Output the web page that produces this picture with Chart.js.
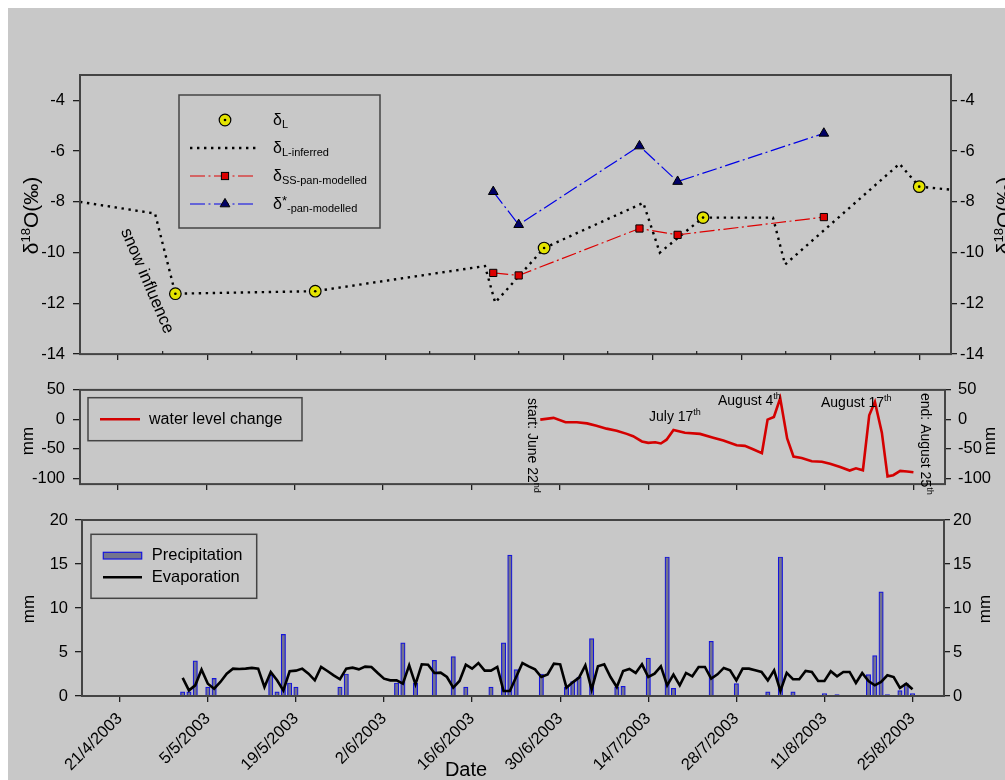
<!DOCTYPE html>
<html>
<head>
<meta charset="utf-8">
<title>Lake isotopes, water level and climate 2003</title>
<script src="https://cdn.jsdelivr.net/npm/chart.js@4/dist/chart.umd.min.js"></script>
<style>
  html, body { margin: 0; padding: 0; background: #fff; }
  #sheet { position: absolute; left: 8px; top: 8px; width: 997px; height: 772px; background: #c8c8c8; }
  canvas { position: absolute; left: 0; }
</style>
</head>
<body>
<div id="sheet"></div>
<canvas id="isoChart" width="1005" height="372" style="top:0px"></canvas>
<canvas id="levelChart" width="1005" height="130" style="top:372px"></canvas>
<canvas id="rainChart" width="1005" height="278" style="top:502px"></canvas>

<script>
// x values are day of year 2003 (21/4 = 111)
const dayMin = 105;
const dayMax = 242;
const tickDays = [111, 125, 139, 153, 167, 181, 195, 209, 223, 237];
const tickLabels = ["21/4/2003", "5/5/2003", "19/5/2003", "2/6/2003", "16/6/2003",
  "30/6/2003", "14/7/2003", "28/7/2003", "11/8/2003", "25/8/2003"];
const weekDays = [118, 132, 146, 160, 174, 188, 202, 216, 230];

// delta 18O panel
const isoTicks = [-4, -6, -8, -10, -12, -14];
const lakeDays = [120, 142, 178, 203, 237];
const lakeValues = [-11.62, -11.52, -9.82, -8.62, -7.4];

const inferredDays = [105, 116.8, 120, 142, 168.7, 170.3, 178, 193.6, 196.2, 203, 214, 215.9, 233.9, 237, 242];
const inferredValues = [-8.0, -8.46, -11.62, -11.52, -10.53, -11.97, -9.82, -8.04, -10.0, -8.62, -8.62, -10.47, -6.5, -7.4, -7.52];

const panDays = [170, 174, 193, 199, 222];
const ssValues = [-10.8, -10.9, -9.05, -9.3, -8.6];
const starValues = [-7.6, -8.9, -5.8, -7.2, -5.3];

// water level panel
const levelTicks = [50, 0, -50, -100];
const levelDays = [177.9, 180, 181.9, 183.7, 185.3, 186.8, 188.4, 190, 191.6, 192.6, 194, 195, 196.1,
  197, 197.9, 199, 200.8, 203.2, 205.3, 206.9, 209, 210.3, 211.6, 213, 213.9, 214.9, 215.9, 217, 218,
  219.3, 220.9, 222.5, 223.8, 225.4, 226.9, 227.9, 229, 230, 230.9, 232, 232.9, 233.8, 234.9, 236, 237];
const levelValues = [-0.5, 2.5, -4.9, -4.9, -6.9, -10.8, -15.8, -19.3, -24.7, -28.6, -37.5, -40, -39,
  -41, -34.6, -18.2, -22.7, -24.7, -31.1, -36.1, -43.9, -45, -50.9, -57.3, -0.5, 4, 35.6, -32.6, -63.2,
  -65.7, -71.2, -72.1, -75.6, -81, -87, -83.1, -86.5, 7, 29.7, -22.7, -96.9, -94.9, -87.5, -88.5, -89.9];

// precipitation / evaporation panel
const mmTicks = [0, 5, 10, 15, 20];
const rainDays = [121, 122, 123, 125, 126, 135, 136, 137, 138, 139, 146, 147, 155, 156, 158, 161, 164,
  166, 170, 172, 173, 174, 178, 182, 183, 184, 186, 190, 191, 195, 198, 199, 205, 209, 214, 216, 218,
  223, 225, 230, 231, 232, 233, 235, 236, 237];
const rainValues = [0.46, 0.46, 4.0, 1.0, 2.0, 2.35, 0.46, 7.0, 1.48, 1.0, 1.0, 2.5, 1.48, 6.03, 1.45, 4.06, 4.47,
  1.0, 1.0, 6.03, 16.0, 3.0, 2.5, 1.0, 1.65, 2.15, 6.52, 1.0, 1.1, 4.3, 15.8, 0.87, 6.22, 1.4, 0.46, 15.8, 0.46,
  0.27, 0.15, 2.43, 4.59, 11.83, 0.15, 0.61, 1.4, 0.27];

const evapFirstDay = 121;
const evapValues = [
  2.05, 0.64, 1.21, 3.0, 1.40, 0.83, 1.59, 2.54, 3.11, 3.07, 3.11, 3.19, 3.11, 1.02, 2.73, 1.78, 0.64, 2.81,
  2.88, 3.11, 2.54, 1.78, 3.30, 2.84, 2.35, 1.90, 3.11, 3.22, 3.03, 3.34, 3.30, 2.62, 1.97, 1.78, 1.78, 1.40,
  3.49, 1.33,
  3.60, 3.56, 2.62, 2.65, 2.16, 0.95, 1.71, 3.56, 3.11, 3.75, 2.88, 2.88, 3.30, 0.57, 0.57, 2.16, 3.75, 3.37,
  3.03, 2.16, 2.46, 3.68, 3.60, 0.95, 1.55, 2.09, 3.49, 0.72, 3.37, 3.60, 2.16, 1.02, 2.84, 3.07, 2.62, 3.60,
  2.16, 2.54, 3.37, 1.21,
  2.43, 1.21, 2.62, 2.24, 3.30, 3.30, 1.97, 2.46, 3.19, 2.92, 1.78, 3.11, 3.11, 2.92, 2.73, 1.78, 2.92, 0.57,
  2.62, 1.90, 1.90, 2.84, 2.73, 1.71, 1.71, 2.81, 2.24, 2.73, 2.73, 1.48, 2.62, 1.71, 1.21, 1.59, 2.35, 2.16,
  0.91, 1.40, 0.76];

const FONT = '"Liberation Sans", Arial, Helvetica, sans-serif';
Chart.defaults.font.family = FONT;
Chart.defaults.color = "#000";

const yellow = "#e3e300";
const red = "#dd0000";
const blue = "#0000e6";
const navy = "#000066";
const barFill = "#74748e";
const barEdge = "#1414dc";
const frameColor = "#444";
const dotted = [2.4, 4.6];
const dashDot = [15, 3.5, 2, 3.5];

function toPoints(xs, ys) {
  return xs.map((x, i) => ({ x: x, y: ys[i] }));
}

function setFont(ctx, size) {
  ctx.font = size + "px " + FONT;
}

function partsWidth(ctx, parts) {
  let w = 0;
  parts.forEach(p => {
    setFont(ctx, p.size);
    w += ctx.measureText(p.text).width;
  });
  return w;
}

function drawParts(ctx, x, y, parts) {
  let cx = x;
  parts.forEach(p => {
    setFont(ctx, p.size);
    ctx.fillText(p.text, cx, y + (p.shift || 0));
    cx += ctx.measureText(p.text).width;
  });
}

function drawTurned(ctx, x, y, angle, parts, centred) {
  ctx.save();
  ctx.translate(x, y);
  ctx.rotate(angle);
  const start = centred ? -partsWidth(ctx, parts) / 2 : 0;
  drawParts(ctx, start, 0, parts);
  ctx.restore();
}

function dayAxis(axisHeight, showLabels) {
  return {
    type: "linear",
    position: "bottom",
    min: dayMin,
    max: dayMax,
    offset: false,
    afterBuildTicks: s => { s.ticks = tickDays.map(v => ({ value: v })); },
    afterFit: s => { s.height = axisHeight; },
    grid: { drawOnChartArea: false, drawTicks: true, tickLength: 6, color: "#1e1e1e", lineWidth: 1.3, offset: false },
    border: { display: false },
    ticks: {
      autoSkip: false,
      maxRotation: 45,
      minRotation: 45,
      padding: 7,
      font: { size: 16.5 },
      callback: (v, i) => showLabels ? tickLabels[i] : ""
    }
  };
}

function valueAxis(position, min, max, values, width, tickLength, padding) {
  return {
    type: "linear",
    position: position,
    min: min,
    max: max,
    afterBuildTicks: s => { s.ticks = values.map(v => ({ value: v })); },
    afterFit: s => { s.width = width; },
    grid: { drawOnChartArea: false, drawTicks: true, tickLength: tickLength, color: "#1e1e1e", lineWidth: 1.3 },
    border: { display: false },
    ticks: { padding: padding, font: { size: 16.5 } }
  };
}

function drawFrame(chart) {
  const { ctx, chartArea: a } = chart;
  ctx.save();
  ctx.strokeStyle = frameColor;
  ctx.lineWidth = 2;
  ctx.strokeRect(a.left, a.top, a.right - a.left, a.bottom - a.top);
  ctx.restore();
}

function drawSquare(ctx, x, y, side, fill) {
  ctx.fillStyle = fill;
  ctx.strokeStyle = "#000";
  ctx.lineWidth = 1;
  ctx.fillRect(x - side / 2, y - side / 2, side, side);
  ctx.strokeRect(x - side / 2, y - side / 2, side, side);
}

function drawTriangle(ctx, x, y, r, fill) {
  ctx.beginPath();
  ctx.moveTo(x, y - r);
  ctx.lineTo(x + r * 0.866, y + r / 2);
  ctx.lineTo(x - r * 0.866, y + r / 2);
  ctx.closePath();
  ctx.fillStyle = fill;
  ctx.fill();
  ctx.strokeStyle = "#000";
  ctx.lineWidth = 1;
  ctx.stroke();
}

function sampleLine(ctx, x1, x2, y, color, width, dash) {
  ctx.beginPath();
  ctx.setLineDash(dash);
  ctx.strokeStyle = color;
  ctx.lineWidth = width;
  ctx.moveTo(x1, y);
  ctx.lineTo(x2, y);
  ctx.stroke();
  ctx.setLineDash([]);
}

const baseOptions = {
  responsive: false,
  animation: false,
  events: [],
  devicePixelRatio: 1,
  plugins: { legend: { display: false }, tooltip: { enabled: false } }
};

// ---------- delta 18O ----------
const isoDecor = {
  id: "isoDecor",
  afterDraw(chart) {
    const { ctx, chartArea: a } = chart;
    const x = chart.scales.x;
    drawFrame(chart);

    // weekly minor ticks inside the bottom axis
    ctx.save();
    ctx.strokeStyle = "#1e1e1e";
    ctx.lineWidth = 1.2;
    weekDays.forEach(d => {
      const px = x.getPixelForValue(d);
      ctx.beginPath();
      ctx.moveTo(px, a.bottom);
      ctx.lineTo(px, a.bottom - 3);
      ctx.stroke();
    });

    // legend box
    ctx.strokeStyle = frameColor;
    ctx.lineWidth = 1.5;
    ctx.strokeRect(179, 95, 201, 133);

    ctx.beginPath();
    ctx.arc(225, 120, 5.8, 0, Math.PI * 2);
    ctx.fillStyle = yellow;
    ctx.fill();
    ctx.strokeStyle = "#000";
    ctx.lineWidth = 1.2;
    ctx.stroke();
    ctx.beginPath();
    ctx.arc(225, 120, 1.3, 0, Math.PI * 2);
    ctx.fillStyle = "#000";
    ctx.fill();

    sampleLine(ctx, 190, 258, 148, "#000", 2.4, dotted);
    sampleLine(ctx, 190, 256, 176, red, 1.2, dashDot);
    drawSquare(ctx, 225, 176, 7.2, red);
    sampleLine(ctx, 190, 256, 204, blue, 1.2, dashDot);
    drawTriangle(ctx, 225, 204, 5.6, navy);

    ctx.fillStyle = "#000";
    ctx.textBaseline = "alphabetic";
    drawParts(ctx, 273, 125, [{ text: "δ", size: 16 }, { text: "L", size: 11, shift: 3.4 }]);
    drawParts(ctx, 273, 153, [{ text: "δ", size: 16 }, { text: "L-inferred", size: 11, shift: 3.4 }]);
    drawParts(ctx, 273, 181, [{ text: "δ", size: 16 }, { text: "SS-pan-modelled", size: 11, shift: 3.4 }]);
    drawParts(ctx, 273, 209, [{ text: "δ", size: 16 }, { text: "*", size: 13, shift: -4 },
      { text: "-pan-modelled", size: 11, shift: 3.4 }]);

    // annotation
    ctx.textBaseline = "middle";
    drawTurned(ctx, 147, 281, 67 * Math.PI / 180, [{ text: "snow influence", size: 17 }], true);

    // axis titles
    ctx.textBaseline = "alphabetic";
    const title = [{ text: "δ", size: 21 }, { text: "18", size: 13, shift: -8 }, { text: "O(‰)", size: 21 }];
    drawTurned(ctx, 38, 215.5, -Math.PI / 2, title, true);
    drawTurned(ctx, 1011, 215.5, -Math.PI / 2, title, true);
    ctx.restore();
  }
};

new Chart(document.getElementById("isoChart"), {
  type: "scatter",
  data: {
    datasets: [
      {
        label: "δL-inferred",
        data: toPoints(inferredDays, inferredValues),
        showLine: true,
        borderColor: "#000",
        borderWidth: 2.4,
        borderDash: dotted,
        pointRadius: 0,
        order: 5
      },
      {
        label: "δSS-pan-modelled",
        data: toPoints(panDays, ssValues),
        showLine: true,
        borderColor: red,
        borderWidth: 1.2,
        borderDash: dashDot,
        pointStyle: "rect",
        pointRadius: 5.1,
        pointBackgroundColor: red,
        pointBorderColor: "#000",
        pointBorderWidth: 1,
        order: 4
      },
      {
        label: "δ*-pan-modelled",
        data: toPoints(panDays, starValues),
        showLine: true,
        borderColor: blue,
        borderWidth: 1.2,
        borderDash: dashDot,
        pointStyle: "triangle",
        pointRadius: 5.6,
        pointBackgroundColor: navy,
        pointBorderColor: "#000",
        pointBorderWidth: 1,
        order: 3
      },
      {
        label: "δL",
        data: toPoints(lakeDays, lakeValues),
        pointRadius: 5.8,
        pointBackgroundColor: yellow,
        pointBorderColor: "#000",
        pointBorderWidth: 1.2,
        order: 2
      },
      {
        label: "δL centre",
        data: toPoints(lakeDays, lakeValues),
        pointRadius: 1.3,
        pointBackgroundColor: "#000",
        pointBorderWidth: 0,
        order: 1
      }
    ]
  },
  options: {
    ...baseOptions,
    layout: { padding: { top: 75, left: 0, right: 0, bottom: 0 } },
    scales: {
      x: dayAxis(17, false),
      y: valueAxis("left", -14, -3, isoTicks, 80, 7, 8),
      y2: valueAxis("right", -14, -3, isoTicks, 54, 6, 3)
    }
  },
  plugins: [isoDecor]
});

// ---------- water level ----------
const levelDecor = {
  id: "levelDecor",
  afterDraw(chart) {
    const { ctx } = chart;
    drawFrame(chart);
    ctx.save();

    ctx.strokeStyle = frameColor;
    ctx.lineWidth = 1.5;
    ctx.strokeRect(88, 25.7, 214, 43);
    sampleLine(ctx, 100, 140, 47.3, "#d40000", 2.6, []);
    ctx.fillStyle = "#000";
    ctx.textBaseline = "middle";
    drawParts(ctx, 149, 47.5, [{ text: "water level change", size: 16 }]);

    ctx.textBaseline = "alphabetic";
    drawParts(ctx, 649, 49, [{ text: "July 17", size: 14 }, { text: "th", size: 9, shift: -6 }]);
    drawParts(ctx, 718, 33, [{ text: "August 4", size: 14 }, { text: "th", size: 9, shift: -6 }]);
    drawParts(ctx, 821, 34.5, [{ text: "August 17", size: 14 }, { text: "th", size: 9, shift: -6 }]);
    drawTurned(ctx, 528, 26, Math.PI / 2, [{ text: "start: June 22", size: 14 }, { text: "nd", size: 9, shift: -6 }], false);
    drawTurned(ctx, 921, 21, Math.PI / 2, [{ text: "end: August 25", size: 14 }, { text: "th", size: 9, shift: -6 }], false);

    drawTurned(ctx, 33, 69, -Math.PI / 2, [{ text: "mm", size: 17 }], true);
    drawTurned(ctx, 995, 69, -Math.PI / 2, [{ text: "mm", size: 17 }], true);
    ctx.restore();
  }
};

new Chart(document.getElementById("levelChart"), {
  type: "scatter",
  data: {
    datasets: [{
      label: "water level change",
      data: toPoints(levelDays, levelValues),
      showLine: true,
      borderColor: "#d40000",
      borderWidth: 2.6,
      pointRadius: 0
    }]
  },
  options: {
    ...baseOptions,
    layout: { padding: { top: 15, left: 0, right: 0, bottom: 0 } },
    scales: {
      x: dayAxis(7, false),
      y: valueAxis("left", -110, 50, levelTicks, 80, 7, 8),
      y2: valueAxis("right", -110, 50, levelTicks, 60, 6, 7)
    }
  },
  plugins: [levelDecor]
});

// ---------- precipitation and evaporation ----------
const rainDecor = {
  id: "rainDecor",
  afterDraw(chart) {
    const { ctx } = chart;
    drawFrame(chart);
    ctx.save();

    ctx.strokeStyle = frameColor;
    ctx.lineWidth = 1.5;
    ctx.strokeRect(91, 32.3, 165.7, 64);
    ctx.fillStyle = barFill;
    ctx.fillRect(103.3, 50.3, 38.4, 6.7);
    ctx.strokeStyle = barEdge;
    ctx.lineWidth = 1.2;
    ctx.strokeRect(103.3, 50.3, 38.4, 6.7);
    sampleLine(ctx, 103, 142, 75.3, "#000", 2.6, []);

    ctx.fillStyle = "#000";
    ctx.textBaseline = "middle";
    drawParts(ctx, 151.7, 53.5, [{ text: "Precipitation", size: 16.5 }]);
    drawParts(ctx, 151.7, 75.5, [{ text: "Evaporation", size: 16.5 }]);

    ctx.textBaseline = "alphabetic";
    drawTurned(ctx, 34, 107, -Math.PI / 2, [{ text: "mm", size: 17 }], true);
    drawTurned(ctx, 990, 107, -Math.PI / 2, [{ text: "mm", size: 17 }], true);

    ctx.textAlign = "center";
    setFont(ctx, 20);
    ctx.fillText("Date", 466, 274);
    ctx.restore();
  }
};

new Chart(document.getElementById("rainChart"), {
  type: "bar",
  data: {
    datasets: [
      {
        type: "line",
        label: "Evaporation",
        data: evapValues.map((v, i) => ({ x: evapFirstDay + i, y: v })),
        borderColor: "#000",
        borderWidth: 2.6,
        pointRadius: 0,
        order: 0
      },
      {
        type: "bar",
        label: "Precipitation",
        data: toPoints(rainDays, rainValues),
        backgroundColor: barFill,
        borderColor: barEdge,
        borderWidth: 1.2,
        barThickness: 4.4,
        order: 1
      }
    ]
  },
  options: {
    ...baseOptions,
    layout: { padding: { top: 18, left: 0, right: 0, bottom: 0 } },
    scales: {
      x: dayAxis(84, true),
      y: valueAxis("left", 0, 20, mmTicks, 82, 7, 7),
      y2: valueAxis("right", 0, 20, mmTicks, 61, 6, 3)
    }
  },
  plugins: [rainDecor]
});
</script>
</body>
</html>
